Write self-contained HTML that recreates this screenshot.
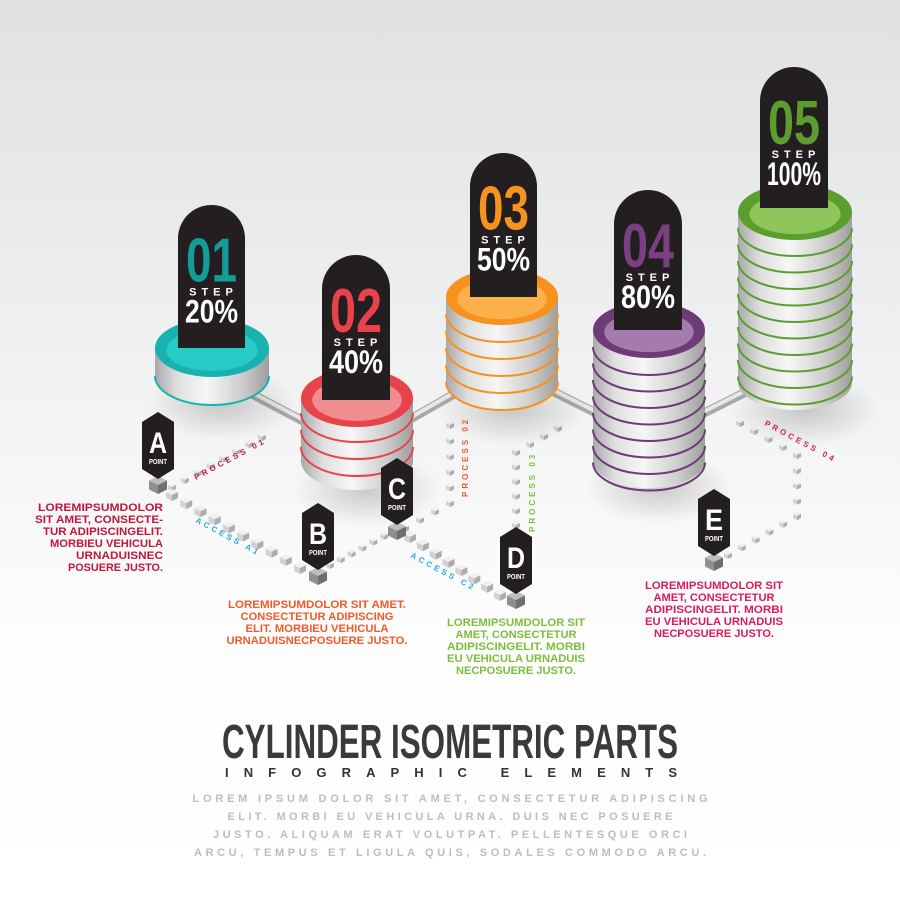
<!DOCTYPE html>
<html><head><meta charset="utf-8">
<style>
html,body{margin:0;padding:0;width:900px;height:900px;overflow:hidden;background:#fff}
svg{display:block}
text{font-family:"Liberation Sans Narrow","Liberation Sans",sans-serif;font-weight:bold}
</style></head>
<body>
<svg id="s" width="900" height="900" viewBox="0 0 900 900" xmlns="http://www.w3.org/2000/svg">
<defs>
<linearGradient id="bg" x1="0" y1="0" x2="0" y2="1">
<stop offset="0" stop-color="#dfe1e2"/><stop offset="0.7" stop-color="#fdfdfd"/><stop offset="1" stop-color="#fff"/>
</linearGradient>
<linearGradient id="metal" x1="0" y1="0" x2="1" y2="0">
<stop offset="0" stop-color="#a9a9a9"/><stop offset="0.2" stop-color="#e0e0e0"/><stop offset="0.45" stop-color="#f6f6f6"/><stop offset="0.75" stop-color="#cfcfcf"/><stop offset="1" stop-color="#9e9e9e"/>
</linearGradient>
<radialGradient id="shadow"><stop offset="0" stop-color="#000" stop-opacity="0.18"/><stop offset="1" stop-color="#000" stop-opacity="0"/></radialGradient>
</defs>
<rect width="900" height="900" fill="url(#bg)"/>
<g id="g"></g>
<text x="450" y="758" text-anchor="middle" font-size="48" fill="#3a3a3a" textLength="456" lengthAdjust="spacingAndGlyphs">CYLINDER ISOMETRIC PARTS</text>
<text x="451" y="777" text-anchor="middle" font-size="13" fill="#333" textLength="452" lengthAdjust="spacing">INFOGRAPHIC ELEMENTS</text>
<g font-size="11" fill="#bdbdbd" text-anchor="middle" font-weight="normal">
<text x="450" y="802" textLength="515" lengthAdjust="spacing">LOREM IPSUM DOLOR SIT AMET, CONSECTETUR ADIPISCING</text>
<text x="450" y="820" textLength="445" lengthAdjust="spacing">ELIT. MORBI EU VEHICULA URNA. DUIS NEC POSUERE</text>
<text x="450" y="838" textLength="474" lengthAdjust="spacing">JUSTO. ALIQUAM ERAT VOLUTPAT. PELLENTESQUE ORCI</text>
<text x="450" y="856" textLength="512" lengthAdjust="spacing">ARCU, TEMPUS ET LIGULA QUIS, SODALES COMMODO ARCU.</text>
</g>
<g font-size="11" text-anchor="end" fill="#c0163c">
<text x="163" y="511" textLength="125" lengthAdjust="spacingAndGlyphs">LOREMIPSUMDOLOR</text>
<text x="163" y="523" textLength="128" lengthAdjust="spacingAndGlyphs">SIT AMET, CONSECTE-</text>
<text x="163" y="535" textLength="120" lengthAdjust="spacingAndGlyphs">TUR ADIPISCINGELIT.</text>
<text x="163" y="547" textLength="113" lengthAdjust="spacingAndGlyphs">MORBIEU VEHICULA</text>
<text x="163" y="559" textLength="87" lengthAdjust="spacingAndGlyphs">URNADUISNEC</text>
<text x="163" y="571" textLength="95" lengthAdjust="spacingAndGlyphs">POSUERE JUSTO.</text>
</g>
<g font-size="11" text-anchor="middle" fill="#ef5a2a">
<text x="317" y="608" textLength="178" lengthAdjust="spacingAndGlyphs">LOREMIPSUMDOLOR SIT AMET.</text>
<text x="317" y="620" textLength="153" lengthAdjust="spacingAndGlyphs">CONSECTETUR ADIPISCING</text>
<text x="317" y="632" textLength="143" lengthAdjust="spacingAndGlyphs">ELIT. MORBIEU VEHICULA</text>
<text x="317" y="644" textLength="181" lengthAdjust="spacingAndGlyphs">URNADUISNECPOSUERE JUSTO.</text>
</g>
<g font-size="11" text-anchor="middle" fill="#7dbd3c">
<text x="516" y="626" textLength="138" lengthAdjust="spacingAndGlyphs">LOREMIPSUMDOLOR SIT</text>
<text x="516" y="638" textLength="121" lengthAdjust="spacingAndGlyphs">AMET, CONSECTETUR</text>
<text x="516" y="650" textLength="138" lengthAdjust="spacingAndGlyphs">ADIPISCINGELIT. MORBI</text>
<text x="516" y="662" textLength="138" lengthAdjust="spacingAndGlyphs">EU VEHICULA URNADUIS</text>
<text x="516" y="674" textLength="120" lengthAdjust="spacingAndGlyphs">NECPOSUERE JUSTO.</text>
</g>
<g font-size="11" text-anchor="middle" fill="#d81b5f">
<text x="714" y="589" textLength="138" lengthAdjust="spacingAndGlyphs">LOREMIPSUMDOLOR SIT</text>
<text x="714" y="601" textLength="121" lengthAdjust="spacingAndGlyphs">AMET, CONSECTETUR</text>
<text x="714" y="613" textLength="138" lengthAdjust="spacingAndGlyphs">ADIPISCINGELIT. MORBI</text>
<text x="714" y="625" textLength="138" lengthAdjust="spacingAndGlyphs">EU VEHICULA URNADUIS</text>
<text x="714" y="637" textLength="120" lengthAdjust="spacingAndGlyphs">NECPOSUERE JUSTO.</text>
</g>
<g font-size="8" letter-spacing="3" font-weight="bold">
<text transform="translate(196,480) rotate(-28)" fill="#c0163c">PROCESS 01</text>
<text transform="translate(195,522) rotate(28)" fill="#29a8e0">ACCESS A1</text>
<text transform="translate(468,497) rotate(-90)" fill="#ef5a2a">PROCESS 02</text>
<text transform="translate(410,557) rotate(28)" fill="#29a8e0">ACCESS C2</text>
<text transform="translate(535,532) rotate(-90)" fill="#7dbd3c">PROCESS 03</text>
<text transform="translate(764,425) rotate(28)" fill="#d81b5f">PROCESS 04</text>
</g>
</svg>
<script>
var NS="http://www.w3.org/2000/svg",G=document.getElementById('g');
function el(t,a,p){var e=document.createElementNS(NS,t);for(var k in a)e.setAttribute(k,a[k]);(p||G).appendChild(e);return e;}
function P(a){return a.map(function(p){return p[0]+','+p[1];}).join(' ');}
function cube(x,y,s,dark){
  var t=dark?'#bdbdbd':'#f0f0f0',l=dark?'#8f8f8f':'#d2d2d2',r=dark?'#6f6f6f':'#adadad';
  el('polygon',{points:P([[x,y-s],[x+s,y-s/2],[x,y],[x-s,y-s/2]]),fill:t});
  el('polygon',{points:P([[x-s,y-s/2],[x,y],[x,y+s],[x-s,y+s/2]]),fill:l});
  el('polygon',{points:P([[x,y],[x+s,y-s/2],[x+s,y+s/2],[x,y+s]]),fill:r});
}
function line(x1,y1,x2,y2,n,s){for(var i=0;i<=n;i++){cube(x1+(x2-x1)*i/n,y1+(y2-y1)*i/n,s);}}
line(172,487,262,437,7,4);
line(172,495,300,568,9,6);
line(330,565,395,530,6,4);
line(405,528,450,503,3,4);
line(450,503,450,425,5,4);
line(410,537,500,595,7,6);
line(516,525,516,452,5,4);
line(516,452,558,428,3,4);
line(728,555,797,516,5,4);
line(797,516,797,455,4,4);
line(797,455,740,423,4,4);
function rod(x1,y1,x2,y2){el('line',{x1:x1,y1:y1,x2:x2,y2:y2,stroke:'#a8a8a8','stroke-width':9,'stroke-linecap':'round'});el('line',{x1:x1,y1:y1-1.5,x2:x2,y2:y2-1.5,stroke:'#e8e8e8','stroke-width':4,'stroke-linecap':'round'});}
rod(250,393,320,430);rod(400,425,470,385);rod(540,385,610,420);rod(690,420,760,385);
function cyl(cx,top,bot,rx,ry,c1,c2,lines){
  el('ellipse',{cx:cx+10,cy:bot+ry,rx:rx+18,ry:ry+8,fill:'url(#shadow)'});
  el('path',{d:'M'+(cx-rx)+','+top+' L'+(cx-rx)+','+bot+' A'+rx+','+ry+' 0 0 0 '+(cx+rx)+','+bot+' L'+(cx+rx)+','+top+' Z',fill:'url(#metal)'});
  for(var i=0;i<lines.length;i++){var y=lines[i];el('path',{d:'M'+(cx-rx)+','+y+' A'+rx+','+ry+' 0 0 0 '+(cx+rx)+','+y,fill:'none',stroke:c1,'stroke-width':2});}
  el('ellipse',{cx:cx,cy:top,rx:rx,ry:ry,fill:c1});
  el('ellipse',{cx:cx,cy:top+2,rx:rx*0.8,ry:ry*0.72,fill:c2});
}
function rng(a,step,n){var r=[];for(var i=0;i<n;i++)r.push(a+step*i);return r;}
function label(x,y,w,h,num,col,pct){
  var r=w/2;
  el('path',{d:'M'+x+','+(y+h)+' L'+x+','+(y+r)+' A'+r+','+r+' 0 0 1 '+(x+w)+','+(y+r)+' L'+(x+w)+','+(y+h)+' Z',fill:'#231f20'});
  var t=el('text',{x:x+w/2,y:y+r+43,'text-anchor':'middle','font-size':62,fill:col,textLength:w-16,lengthAdjust:'spacingAndGlyphs'});t.textContent=num;
  t=el('text',{x:x+w/2+2,y:y+r+57,'text-anchor':'middle','font-size':11,fill:'#fff','letter-spacing':5,'font-weight':'normal'});t.textContent='STEP';
  t=el('text',{x:x+w/2,y:y+r+84,'text-anchor':'middle','font-size':32,fill:'#fff',textLength:w-14,lengthAdjust:'spacingAndGlyphs'});t.textContent=pct;
}
cyl(212,348,375,57,29,'#18b3b1','#27cbc6',[376]);
label(178,205,67,143,'01','#139c9a','20%');
cyl(357,398,461,56,29,'#e8424b','#f28d8f',[413,430,447]);
label(322,255,68,145,'02','#e8424b','40%');
cyl(502,297,382,56,28,'#f7921e','#fbb04a',rng(314,17,5));
label(470,153,67,144,'03','#f7921e','50%');
cyl(649,330,460,56,28,'#6e3a78','#a57aad',rng(347,16.5,8));
label(614,190,68,140,'04','#7a4082','80%');
cyl(795,212,382,57,28,'#5c9e2e','#8fc65c',rng(228,16.5,10));
label(760,67,68,141,'05','#5d9c2e','100%');
function pt(x,y,L){
  var w=32,h=67;
  cube(x+w/2,y+h+6,9,true);
  el('polygon',{points:P([[x+w/2,y],[x+w,y+10],[x+w,y+h-10],[x+w/2,y+h],[x,y+h-10],[x,y+10]]),fill:'#231f20'});
  var t=el('text',{x:x+w/2,y:y+41,'text-anchor':'middle','font-size':30,fill:'#fff',textLength:18,lengthAdjust:'spacingAndGlyphs'});t.textContent=L;
  t=el('text',{x:x+w/2,y:y+52,'text-anchor':'middle','font-size':7,fill:'#fff',textLength:18,lengthAdjust:'spacingAndGlyphs'});t.textContent='POINT';
}
pt(142,412,'A');pt(302,503,'B');pt(381,458,'C');pt(500,527,'D');pt(698,489,'E');
</script>
</body></html>
